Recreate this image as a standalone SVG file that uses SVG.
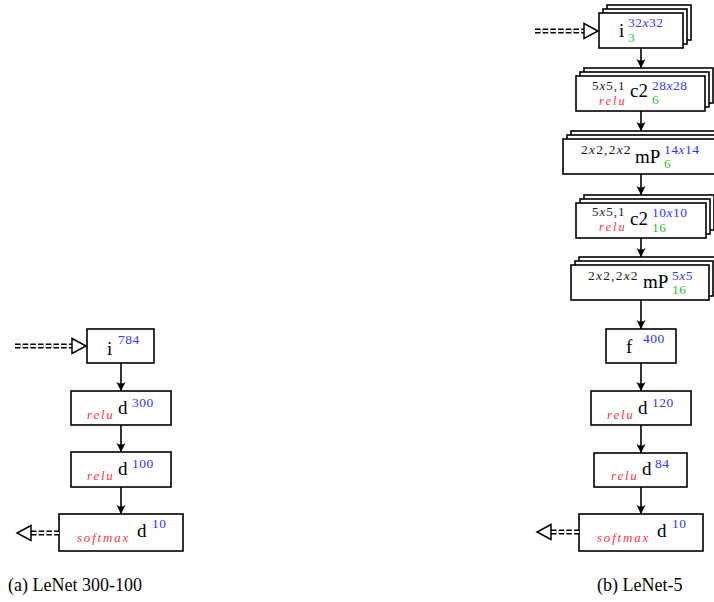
<svg xmlns="http://www.w3.org/2000/svg" width="714" height="602" viewBox="0 0 714 602">
  <style>
    text { font-family: 'Liberation Serif', 'Times New Roman', 'DejaVu Serif', serif; }
    .box { fill: #ffffff; stroke: #000000; stroke-width: 1.6; }
    .edge { stroke: #000000; stroke-width: 1.6; fill: none; }
    .main { font-size: 19px; fill: #000000; }
    .sup { font-size: 13.5px; fill: #3434ff; letter-spacing: 0.5px; }
    .chan { font-size: 13.5px; fill: #33c033; letter-spacing: 0.5px; }
    .kern { font-size: 13px; fill: #1a1a1a; letter-spacing: 1px; }
    .kern-wide { font-size: 13.5px; fill: #1a1a1a; letter-spacing: 1.2px; }
    .act { font-size: 13px; font-style: italic; fill: #ff3344; letter-spacing: 1.8px; }
    .act-sm { font-size: 12.5px; font-style: italic; fill: #ff3344; letter-spacing: 2px; }
    .it { font-style: italic; }
    .cap { font-size: 18px; fill: #000000; }
    .dd-outer { stroke: #000000; stroke-width: 5.2; stroke-dasharray: 5.5 2.2; fill: none; }
    .dd-inner { stroke: #ffffff; stroke-width: 2; stroke-dasharray: 5.5 2.2; fill: none; }
    .open-head { fill: #ffffff; stroke: #000000; stroke-width: 1.5; stroke-linejoin: miter; }
  </style>
  <defs>
    <marker id="arrow" markerUnits="userSpaceOnUse" markerWidth="12" markerHeight="12" viewBox="-10 -6 12 12" refX="0" refY="0" orient="auto">
      <path d="M0,0 L-9,-4.6 Q-6,0 -9,4.6 Z" fill="#000000"/>
    </marker>
  </defs>
  <rect width="714" height="602" fill="#ffffff"/>

  <!-- (a) LeNet 300-100 -->
  <g id="a-input">
    <rect class="box" x="87" y="329" width="67" height="34"/>
    <text class="main" x="107" y="355">i</text>
    <text class="sup" x="118" y="344">784</text>
  </g>
  <g id="a-dense300">
    <rect class="box" x="71" y="391" width="100" height="34"/>
    <text class="act" x="87" y="419">relu</text>
    <text class="main" x="118" y="414">d</text>
    <text class="sup" x="132" y="407">300</text>
  </g>
  <g id="a-dense100">
    <rect class="box" x="71" y="452" width="100" height="35"/>
    <text class="act" x="87" y="480">relu</text>
    <text class="main" x="118" y="475">d</text>
    <text class="sup" x="132" y="468">100</text>
  </g>
  <g id="a-dense10">
    <rect class="box" x="59" y="514" width="124" height="37"/>
    <text class="act" x="77" y="542">softmax</text>
    <text class="main" x="137" y="537">d</text>
    <text class="sup" x="152" y="528">10</text>
  </g>

  <!-- (b) LeNet-5 -->
  <g id="b-input">
    <rect class="box" x="607" y="5" width="84" height="35"/>
    <rect class="box" x="603" y="9" width="84" height="35"/>
    <rect class="box" x="599" y="13" width="84" height="35"/>
    <text class="main" x="619" y="37">i</text>
    <text class="sup" x="628" y="27">32<tspan class="it">x</tspan>32</text>
    <text class="chan" x="628" y="42">3</text>
  </g>
  <g id="b-conv1">
    <rect class="box" x="584" y="68" width="129" height="35"/>
    <rect class="box" x="580" y="72" width="129" height="35"/>
    <rect class="box" x="576" y="76" width="129" height="35"/>
    <text class="kern" x="592" y="89.5">5<tspan class="it">x</tspan>5,1</text>
    <text class="act-sm" x="599" y="104.5">relu</text>
    <text class="main" x="630" y="97">c2</text>
    <text class="sup" x="652" y="90">28<tspan class="it">x</tspan>28</text>
    <text class="chan" x="652" y="104">6</text>
  </g>
  <g id="b-pool1">
    <rect class="box" x="571" y="131" width="156" height="35"/>
    <rect class="box" x="567" y="135" width="156" height="35"/>
    <rect class="box" x="563" y="139" width="156" height="35"/>
    <text class="kern-wide" x="581" y="154">2<tspan class="it">x</tspan>2,2<tspan class="it">x</tspan>2</text>
    <text class="main" x="635" y="163">mP</text>
    <text class="sup" x="664" y="154">14<tspan class="it">x</tspan>14</text>
    <text class="chan" x="664" y="168">6</text>
  </g>
  <g id="b-conv2">
    <rect class="box" x="584" y="195" width="130" height="35"/>
    <rect class="box" x="580" y="199" width="130" height="35"/>
    <rect class="box" x="576" y="203" width="130" height="35"/>
    <text class="kern" x="592" y="216">5<tspan class="it">x</tspan>5,1</text>
    <text class="act-sm" x="599" y="231">relu</text>
    <text class="main" x="630" y="225">c2</text>
    <text class="sup" x="652" y="217">10<tspan class="it">x</tspan>10</text>
    <text class="chan" x="652" y="232">16</text>
  </g>
  <g id="b-pool2">
    <rect class="box" x="579" y="257" width="138" height="35"/>
    <rect class="box" x="575" y="261" width="138" height="35"/>
    <rect class="box" x="571" y="265" width="138" height="35"/>
    <text class="kern-wide" x="588" y="280">2<tspan class="it">x</tspan>2,2<tspan class="it">x</tspan>2</text>
    <text class="main" x="643" y="288">mP</text>
    <text class="sup" x="672" y="280">5<tspan class="it">x</tspan>5</text>
    <text class="chan" x="672" y="294">16</text>
  </g>
  <g id="b-flatten">
    <rect class="box" x="606" y="329" width="70" height="34"/>
    <text class="main" x="626" y="353">f</text>
    <text class="sup" x="643" y="343">400</text>
  </g>
  <g id="b-dense120">
    <rect class="box" x="591" y="391" width="100" height="34"/>
    <text class="act" x="607" y="419">relu</text>
    <text class="main" x="638" y="414">d</text>
    <text class="sup" x="652" y="407">120</text>
  </g>
  <g id="b-dense84">
    <rect class="box" x="594" y="453" width="93" height="34"/>
    <text class="act" x="611" y="480">relu</text>
    <text class="main" x="642" y="475">d</text>
    <text class="sup" x="655" y="468">84</text>
  </g>
  <g id="b-dense10">
    <rect class="box" x="579" y="514" width="124" height="37"/>
    <text class="act" x="597" y="542">softmax</text>
    <text class="main" x="657" y="537">d</text>
    <text class="sup" x="672" y="528">10</text>
  </g>

  <!-- connectors, drawn over the boxes so heads stay visible -->
  <g id="connectors">
    <!-- (a) input and output -->
    <line class="dd-outer" x1="15" y1="346" x2="73" y2="346"/>
    <line class="dd-inner" x1="15" y1="346" x2="73" y2="346"/>
    <path class="open-head" d="M72,338.5 L86,346 L72,353.5 Z"/>
    <line class="dd-outer" x1="31" y1="533" x2="59" y2="533"/>
    <line class="dd-inner" x1="31" y1="533" x2="59" y2="533"/>
    <path class="open-head" d="M31,525.5 L17,533 L31,540.5 Z"/>
    <line class="edge" x1="121" y1="363" x2="121" y2="391" marker-end="url(#arrow)"/>
    <line class="edge" x1="121" y1="425" x2="121" y2="452" marker-end="url(#arrow)"/>
    <line class="edge" x1="121" y1="487" x2="121" y2="514" marker-end="url(#arrow)"/>

    <!-- (b) input and output -->
    <line class="dd-outer" x1="535" y1="31" x2="585" y2="31"/>
    <line class="dd-inner" x1="535" y1="31" x2="585" y2="31"/>
    <path class="open-head" d="M584,23.5 L598,31 L584,38.5 Z"/>
    <line class="dd-outer" x1="551" y1="532" x2="579" y2="532"/>
    <line class="dd-inner" x1="551" y1="532" x2="579" y2="532"/>
    <path class="open-head" d="M551,524.5 L537,532 L551,539.5 Z"/>
    <line class="edge" x1="641" y1="48" x2="641" y2="68" marker-end="url(#arrow)"/>
    <line class="edge" x1="641" y1="111" x2="641" y2="131" marker-end="url(#arrow)"/>
    <line class="edge" x1="641" y1="174" x2="641" y2="195" marker-end="url(#arrow)"/>
    <line class="edge" x1="641" y1="238" x2="641" y2="257" marker-end="url(#arrow)"/>
    <line class="edge" x1="641" y1="300" x2="641" y2="329" marker-end="url(#arrow)"/>
    <line class="edge" x1="641" y1="363" x2="641" y2="391" marker-end="url(#arrow)"/>
    <line class="edge" x1="641" y1="425" x2="641" y2="453" marker-end="url(#arrow)"/>
    <line class="edge" x1="641" y1="487" x2="641" y2="514" marker-end="url(#arrow)"/>
  </g>

  <!-- captions -->
  <text class="cap" x="8" y="591">(a) LeNet 300-100</text>
  <text class="cap" x="597" y="591">(b) LeNet-5</text>
</svg>
